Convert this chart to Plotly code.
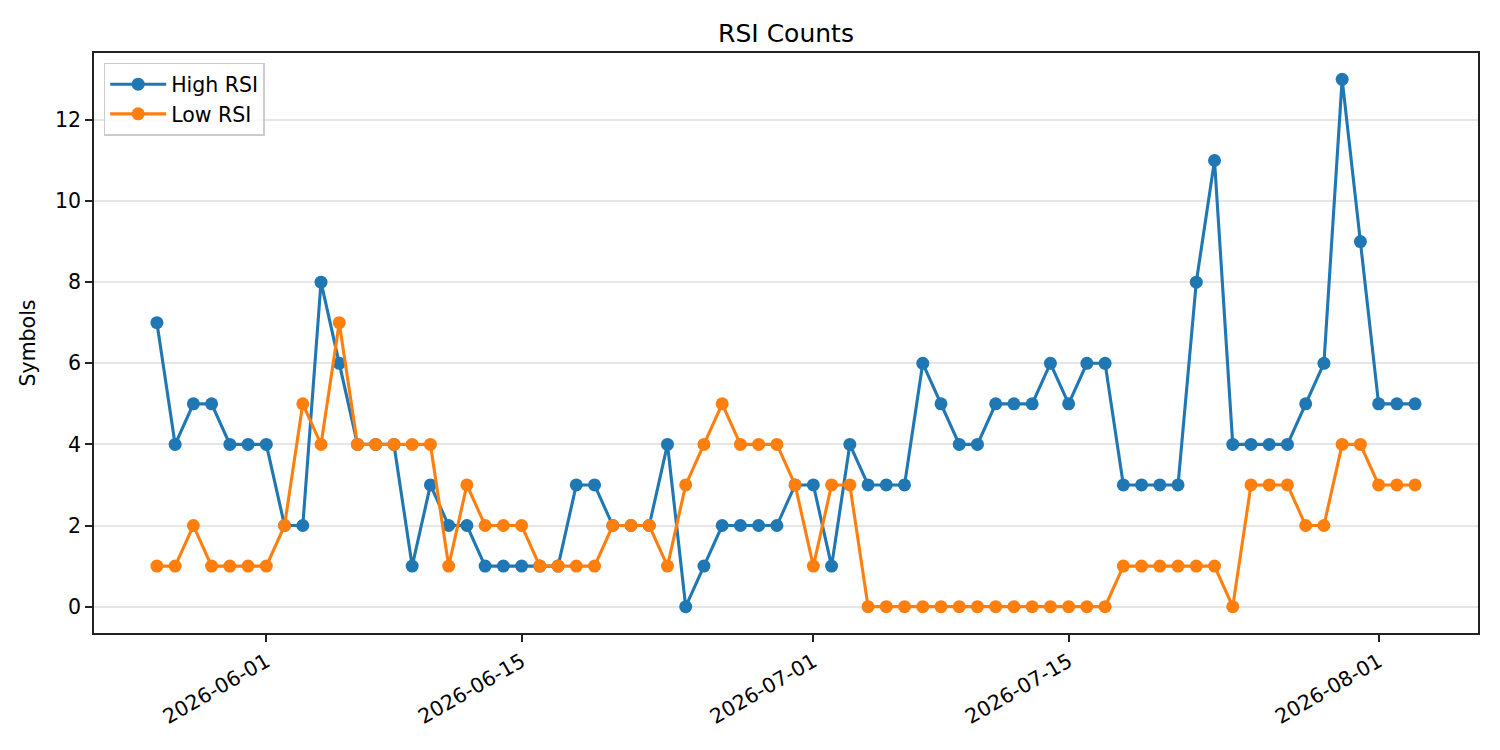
import plotly.graph_objects as go
import pandas as pd

dates = pd.date_range("2026-05-26", "2026-08-03", freq="D").strftime("%Y-%m-%d").tolist()

high_rsi = [7, 4, 5, 5, 4, 4, 4, 2, 2, 8, 6, 4, 4, 4, 1, 3, 2, 2, 1, 1,
            1, 1, 1, 3, 3, 2, 2, 2, 4, 0, 1, 2, 2, 2, 2, 3, 3, 1, 4, 3,
            3, 3, 6, 5, 4, 4, 5, 5, 5, 6, 5, 6, 6, 3, 3, 3, 3, 8, 11, 4,
            4, 4, 4, 5, 6, 13, 9, 5, 5, 5]
low_rsi = [1, 1, 2, 1, 1, 1, 1, 2, 5, 4, 7, 4, 4, 4, 4, 4, 1, 3, 2, 2,
           2, 1, 1, 1, 1, 2, 2, 2, 1, 3, 4, 5, 4, 4, 4, 3, 1, 3, 3, 0,
           0, 0, 0, 0, 0, 0, 0, 0, 0, 0, 0, 0, 0, 1, 1, 1, 1, 1, 1, 0,
           3, 3, 3, 2, 2, 4, 4, 3, 3, 3]

tick_vals = ["2026-06-01", "2026-06-15", "2026-07-01", "2026-07-15", "2026-08-01"]
y_ticks = [0, 2, 4, 6, 8, 10, 12]

FONT = "DejaVu Sans"
FS = 20.5

fig = go.Figure()
fig.add_trace(go.Scatter(x=dates, y=high_rsi, name="High RSI", mode="lines+markers",
                         line=dict(color="#1f77b4", width=3.1),
                         marker=dict(color="#1f77b4", size=13)))
fig.add_trace(go.Scatter(x=dates, y=low_rsi, name="Low RSI", mode="lines+markers",
                         line=dict(color="#ff7f0e", width=3.1),
                         marker=dict(color="#ff7f0e", size=13)))

fig.update_layout(
    width=1500, height=750,
    margin=dict(l=86, r=30, t=45, b=125),
    paper_bgcolor="white", plot_bgcolor="white",
    font=dict(family=FONT, size=FS, color="black"),
    title=dict(text="RSI Counts", x=0.5, xref="paper", xanchor="center",
               y=1 - 25 / 750, yanchor="middle",
               font=dict(family=FONT, size=25, color="black")),
    showlegend=True,
    legend=dict(x=0.007, y=0.983, xanchor="left", yanchor="top",
                itemwidth=56,
                bgcolor="rgba(255,255,255,0.8)", bordercolor="#cccccc", borderwidth=1.5,
                font=dict(family=FONT, size=FS, color="black")),
    xaxis=dict(
        type="date",
        range=["2026-05-22 13:12", "2026-08-06 10:48"],
        tickvals=tick_vals, ticktext=tick_vals,
        tickangle=-30,
        showgrid=False, zeroline=False,
        showline=True, linecolor="#222222", linewidth=1.6, mirror=True,
        ticks="outside", ticklen=7, tickwidth=1.6, tickcolor="#222222",
    ),
    yaxis=dict(
        range=[-0.65, 13.65],
        tickvals=y_ticks,
        showgrid=True, gridcolor="#e6e6e6", gridwidth=1.5,
        zeroline=False,
        showline=True, linecolor="#222222", linewidth=1.6, mirror=True,
        ticks="outside", ticklen=7, tickwidth=1.6, tickcolor="#222222",
        title=dict(text="Symbols", standoff=14, font=dict(family=FONT, size=FS, color="black")),
    ),
)

fig.write_html("out.html")
